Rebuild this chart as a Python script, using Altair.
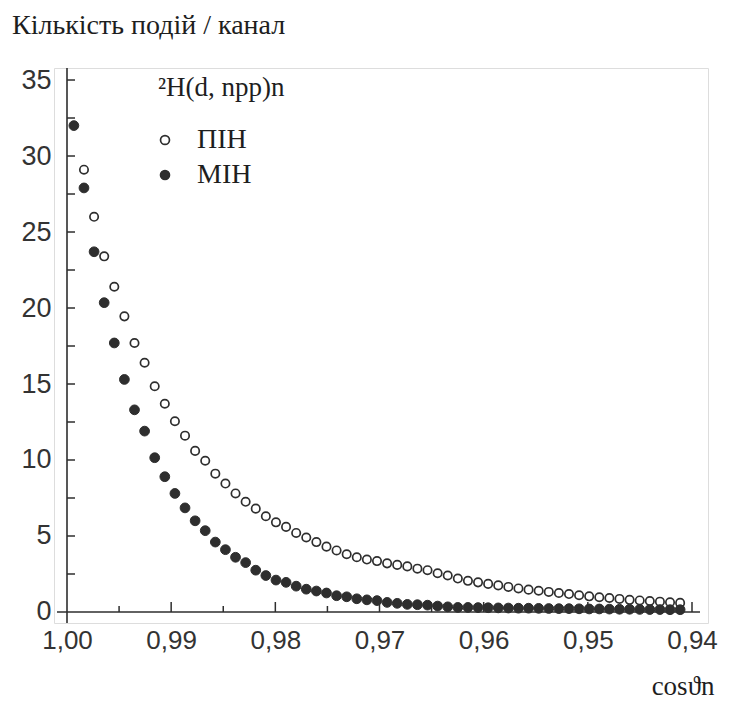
import altair as alt
import pandas as pd

# ---- data ----
cos_theta = [
    0.99934, 0.99837, 0.99740, 0.99643, 0.99546, 0.99449, 0.99352, 0.99255, 0.99158, 0.99061,
    0.98964, 0.98867, 0.98770, 0.98673, 0.98576, 0.98479, 0.98382, 0.98285, 0.98188, 0.98091,
    0.97994, 0.97897, 0.97800, 0.97703, 0.97606, 0.97509, 0.97412, 0.97315, 0.97218, 0.97121,
    0.97024, 0.96927, 0.96830, 0.96733, 0.96636, 0.96539, 0.96442, 0.96345, 0.96248, 0.96151,
    0.96054, 0.95957, 0.95860, 0.95763, 0.95666, 0.95569, 0.95472, 0.95375, 0.95278, 0.95181,
    0.95084, 0.94987, 0.94890, 0.94793, 0.94696, 0.94599, 0.94502, 0.94405, 0.94308, 0.94211,
    0.94114,
]

# ПІН (open circles), starting at the second channel
pin_counts = [
    29.1, 26.0, 23.4, 21.4, 19.45, 17.7, 16.4, 14.85, 13.7, 12.55,
    11.6, 10.6, 9.95, 9.1, 8.45, 7.8, 7.25, 6.8, 6.3, 5.9,
    5.6, 5.2, 4.9, 4.6, 4.3, 4.05, 3.8, 3.6, 3.45, 3.35,
    3.2, 3.1, 3.0, 2.85, 2.75, 2.55, 2.4, 2.2, 2.05, 1.95,
    1.85, 1.75, 1.65, 1.55, 1.47, 1.4, 1.32, 1.25, 1.18, 1.1,
    1.03, 0.97, 0.92, 0.86, 0.8, 0.76, 0.72, 0.68, 0.64, 0.6,
]

# МІН (filled circles)
min_counts = [
    32.0, 27.9, 23.7, 20.35, 17.7, 15.3, 13.3, 11.9, 10.15, 8.9,
    7.8, 6.85, 6.0, 5.35, 4.6, 4.1, 3.6, 3.25, 2.75, 2.4,
    2.1, 1.95, 1.7, 1.5, 1.38, 1.25, 1.07, 1.0, 0.87, 0.8,
    0.75, 0.63, 0.57, 0.5, 0.48, 0.45, 0.39, 0.34, 0.3, 0.3,
    0.29, 0.28, 0.27, 0.26, 0.25, 0.25, 0.24, 0.23, 0.22, 0.22,
    0.21, 0.2, 0.2, 0.19, 0.18, 0.18, 0.17, 0.16, 0.16, 0.15,
    0.15,
]

series_names = ["ПІН", "МІН"]

x_label_values = [1.00, 0.99, 0.98, 0.97, 0.96, 0.95, 0.94]
x_major_ticks = [0.99, 0.98, 0.97, 0.96, 0.95, 0.94]
x_minor_ticks = [0.995, 0.985, 0.975, 0.965, 0.955, 0.945]
y_label_values = [0, 5, 10, 15, 20, 25, 30, 35]
y_ticks = [2.5, 5, 7.5, 10, 12.5, 15, 17.5, 20, 22.5, 25, 27.5, 30, 32.5, 35]

x_domain = [0.938464, 1.001248]
y_domain = [-0.724, 35.79]
x_axis_start = 1.00096
x_axis_end = 0.93923

# ---- tables ----
pin_df = pd.DataFrame({"cos": cos_theta[1:], "count": pin_counts, "series": series_names[0]})
min_df = pd.DataFrame({"cos": cos_theta, "count": min_counts, "series": series_names[1]})

INK = "#2e2e2e"
TXT = "#1e1e1e"
xs = alt.Scale(domain=x_domain, reverse=True, nice=False, zero=False)
ys = alt.Scale(domain=y_domain, nice=False, zero=False)

fill_scale = alt.Scale(domain=series_names, range=["white", INK])
legend = alt.Legend(
    orient="none", legendX=104, legendY=7,
    title="²H(d, npp)n", titleFont="Liberation Serif", titleFontSize=27,
    titleFontWeight="normal", titleColor=TXT, titlePadding=24,
    labelFont="Liberation Serif", labelFontSize=28, labelColor=TXT,
    labelOffset=18, symbolOffset=-7, symbolType="circle", symbolSize=80,
    symbolStrokeColor=INK, symbolStrokeWidth=1.7, rowPadding=7, padding=0,
)

x_axis = alt.Axis(
    values=x_label_values, domain=False, ticks=False, grid=False,
    labelExpr="replace(format(datum.value, '.2f'), '.', ',')",
    labelFont="Liberation Sans", labelFontSize=26, labelColor="#333",
    labelPadding=4, labelFlush=False, labelOverlap=False,
    title="cosϑn", titleFont="Liberation Serif", titleFontSize=27,
    titleFontWeight="normal", titleColor=TXT,
    titleAlign="right", titleBaseline="alphabetic", titleX=660, titleY=71,
)
y_axis = alt.Axis(
    values=y_label_values, domain=False, ticks=False, grid=False,
    labelFont="Liberation Sans", labelFontSize=27, labelColor="#333",
    labelPadding=3, title=None,
)

open_pts = alt.Chart(pin_df).mark_point(
    shape="circle", filled=True, size=70, stroke=INK, strokeWidth=1.7, opacity=1
).encode(
    x=alt.X("cos:Q", scale=xs, axis=x_axis),
    y=alt.Y("count:Q", scale=ys, axis=y_axis),
    fill=alt.Fill("series:N", scale=fill_scale, legend=legend),
)
filled_pts = alt.Chart(min_df).mark_point(
    shape="circle", filled=True, size=95, stroke=INK, strokeWidth=1, opacity=1
).encode(
    x=alt.X("cos:Q", scale=xs),
    y=alt.Y("count:Q", scale=ys),
    fill=alt.Fill("series:N", scale=fill_scale, legend=legend),
)

# axis lines (crossing at the origin, as in the original)
xline_df = pd.DataFrame({"x": [x_axis_start], "x2": [x_axis_end], "y": [0.0]})
yline_df = pd.DataFrame({"x": [1.0], "y": [y_domain[0]], "y2": [y_domain[1]]})
x_line = alt.Chart(xline_df).mark_rule(color=INK, strokeWidth=1.6).encode(
    x=alt.X("x:Q", scale=xs), x2="x2:Q", y=alt.Y("y:Q", scale=ys)
)
y_line = alt.Chart(yline_df).mark_rule(color=INK, strokeWidth=1.6).encode(
    x=alt.X("x:Q", scale=xs), y=alt.Y("y:Q", scale=ys), y2="y2:Q"
)

# inward ticks
ytick_df = pd.DataFrame({"x": 1.0, "y": y_ticks})
xmaj_df = pd.DataFrame({"x": x_major_ticks, "y": 0.0})
xmin_df = pd.DataFrame({"x": x_minor_ticks, "y": 0.0})
y_tick_marks = alt.Chart(ytick_df).mark_tick(
    orient="horizontal", size=8, thickness=1.5, xOffset=4, color=INK, opacity=1
).encode(x=alt.X("x:Q", scale=xs), y=alt.Y("y:Q", scale=ys))
x_major_marks = alt.Chart(xmaj_df).mark_tick(
    orient="vertical", size=10, thickness=1.5, yOffset=-5, color=INK, opacity=1
).encode(x=alt.X("x:Q", scale=xs), y=alt.Y("y:Q", scale=ys))
x_minor_marks = alt.Chart(xmin_df).mark_tick(
    orient="vertical", size=6, thickness=1.5, yOffset=-3, color=INK, opacity=1
).encode(x=alt.X("x:Q", scale=xs), y=alt.Y("y:Q", scale=ys))

chart = alt.layer(
    x_line, y_line, y_tick_marks, x_major_marks, x_minor_marks, open_pts, filled_pts
).properties(
    width=654, height=555,
    title=alt.TitleParams(
        "Кількість подій / канал", anchor="start", frame="group", font="Liberation Serif",
        fontSize=28, fontWeight="normal", color=TXT, dx=-42, offset=26,
    ),
    autosize=alt.AutoSizeParams(type="none"),
    padding={"left": 46, "top": 60, "right": 13, "bottom": 79},
).configure_view(stroke=None).configure(background="white")

chart.save("out.html", embed_options={"renderer": "svg", "actions": False})
